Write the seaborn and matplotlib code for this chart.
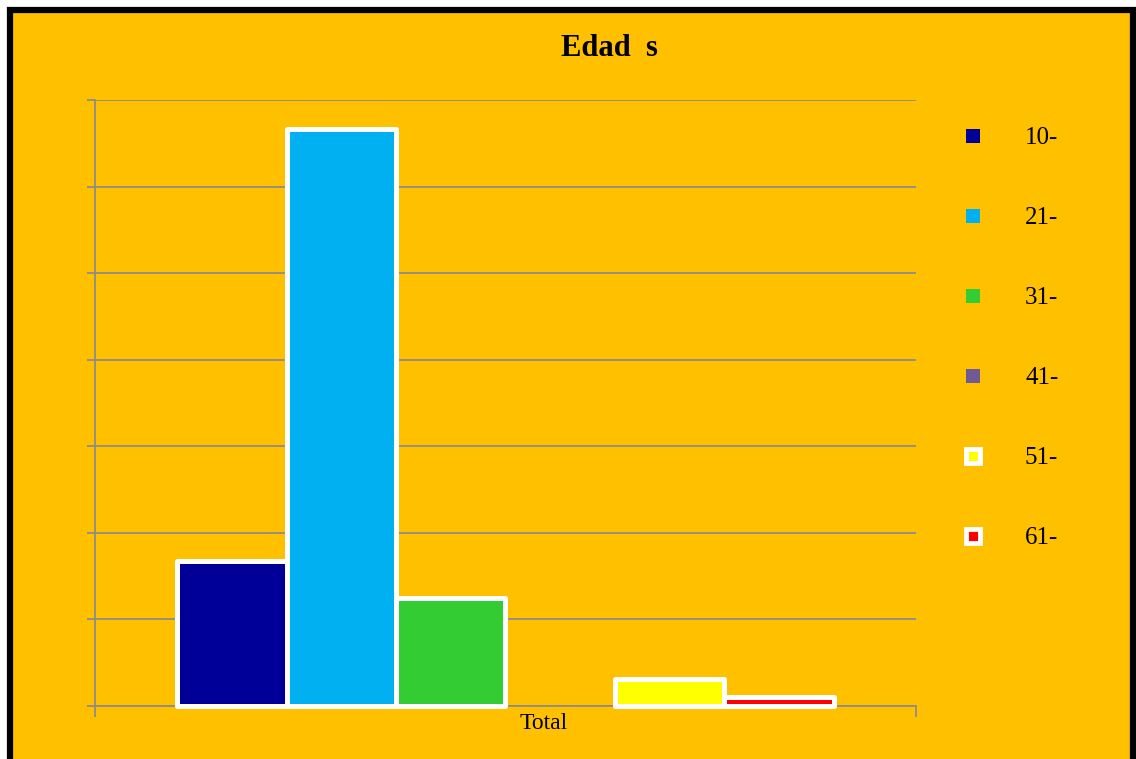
import pandas as pd
import seaborn as sns
import matplotlib.pyplot as plt
from matplotlib.lines import Line2D
from matplotlib.patches import Rectangle
from matplotlib.ticker import MultipleLocator, FixedLocator
from matplotlib.transforms import ScaledTranslation

# values (percent of total)
edades = ['10-', '21-', '31-', '41-', '51-', '61-']
valores = [16.7, 66.7, 12.5, 0.0, 3.1, 1.0]
grupo = ['Total'] * len(edades)
colores = ['#000099', '#00B0F0', '#33CC33', '#6F5A96', '#FFFF00', '#FF0000']

df = pd.DataFrame({'grupo': grupo, 'edad': edades, 'valor': valores})

sns.set_style('white')
plt.rcParams['font.family'] = ['Liberation Serif', 'DejaVu Serif']
plt.rcParams['text.color'] = 'black'
plt.rcParams['xtick.color'] = 'black'

W, H = 1136, 759
fig = plt.figure(figsize=(W / 100, H / 100), dpi=100)
fig.patch.set_facecolor('white')

# orange panel with black frame
fig.patches.append(Rectangle((10 / W, -20 / H), 1123 / W, (H - 10 + 20) / H,
                             transform=fig.transFigure, facecolor='#FFC000',
                             edgecolor='black', linewidth=4.5, zorder=-5))

ax = fig.add_axes([95 / W, 53 / H, 821 / W, 606 / H])
ax.set_facecolor('none')

sns.barplot(data=df, x='grupo', y='valor', hue='edad', palette=colores,
            saturation=1, edgecolor='white', linewidth=3.6, width=0.8,
            legend=False, ax=ax, zorder=3)
for p in ax.patches:
    p.set_joinstyle('round')
    p.set_clip_on(False)
    if p.get_height() == 0:
        p.set_linewidth(0)

ax.set_ylim(0, 70)
ax.set_xlim(-0.5, 0.5)
ax.yaxis.set_major_locator(MultipleLocator(10))
ax.set_yticklabels([])
ax.grid(axis='y', color='#8C8C8C', linewidth=1.3, zorder=0)
ax.set_axisbelow(True)
ax.set_xlabel('')
ax.set_ylabel('')

for side in ['top', 'right']:
    ax.spines[side].set_visible(False)
for side in ['left', 'bottom']:
    ax.spines[side].set_color('#8C8C8C')
    ax.spines[side].set_linewidth(1.3)
    ax.spines[side].set_zorder(1)

ax.tick_params(axis='y', direction='out', length=6, width=1.3, color='#8C8C8C', left=True)
ax.tick_params(axis='x', which='major', length=0, labelsize=17, pad=5, labelcolor='black')
ax.xaxis.set_minor_locator(FixedLocator([-0.5, 0.5]))
ax.tick_params(axis='x', which='minor', direction='out', length=8, width=1.3,
               color='#8C8C8C', bottom=True)
for lbl in ax.get_xticklabels():
    lbl.set_transform(lbl.get_transform() + ScaledTranslation(0.38, 0, fig.dpi_scale_trans))

fig.text(609 / W, 1 - 49 / H, 'Edad  s', ha='center', va='center',
         fontsize=22, fontweight='bold', color='black')

handles = []
for i, (lab, col) in enumerate(zip(edades, colores)):
    if i >= 4:
        h = Line2D([], [], linestyle='none', marker='s', markersize=9.5,
                   markerfacecolor=col, markeredgecolor='white',
                   markeredgewidth=3.5, label=lab)
    else:
        h = Line2D([], [], linestyle='none', marker='s', markersize=10,
                   markerfacecolor=col, markeredgecolor=col,
                   markeredgewidth=0, label=lab)
    handles.append(h)

fig.legend(handles=handles, loc='upper left', bbox_to_anchor=(950 / W, 1 - 117 / H),
           frameon=False, fontsize=18, labelspacing=2.3, handletextpad=1.6,
           handlelength=1.0, borderaxespad=0, labelcolor='black')

fig.savefig('out.png', dpi=100)
